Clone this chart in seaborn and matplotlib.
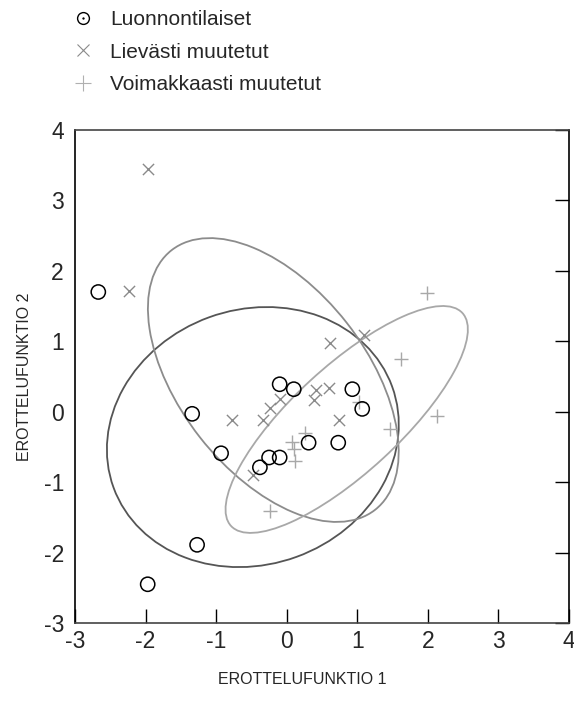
import matplotlib
matplotlib.use("Agg")
import matplotlib.pyplot as plt
import seaborn as sns
import pandas as pd
from matplotlib.patches import Ellipse
from matplotlib.lines import Line2D
from matplotlib.legend_handler import HandlerTuple

# ---- data ----
group_names = ["Luonnontilaiset", "Lievästi muutetut", "Voimakkaasti muutetut"]

circ_x = [-2.67, -1.34, -0.93, -1.27, -1.97, -0.10, 0.10, 0.93, 1.07, 0.31, 0.73, -0.25, -0.10, -0.38]
circ_y = [1.70, -0.03, -0.59, -1.89, -2.45, 0.39, 0.32, 0.32, 0.04, -0.44, -0.44, -0.65, -0.65, -0.79]

cross_x = [-1.96, -2.24, 0.61, 1.09, 0.42, 0.60, 0.39, 0.74, -0.78, -0.10, -0.24, -0.33, -0.48]
cross_y = [3.44, 1.72, 0.98, 1.09, 0.31, 0.34, 0.16, -0.12, -0.12, 0.18, 0.05, -0.12, -0.90]

plus_x = [1.99, 1.62, 2.13, 1.47, 0.26, 0.08, 0.10, 0.12, -0.24, 1.03]
plus_y = [1.68, 0.75, -0.06, -0.25, -0.30, -0.43, -0.53, -0.70, -1.41, 0.14]

# group ellipses: centre, full width, full height, angle (deg)
ell_cx = [-0.48, -0.19, 0.85]
ell_cy = [-0.36, 0.45, -0.11]
ell_w = [4.20, 4.68, 4.46]
ell_h = [3.62, 2.64, 1.51]
ell_angle = [20.0, -52.0, 42.7]

x_ticks = [-3, -2, -1, 0, 1, 2, 3, 4]
y_ticks = [-3, -2, -1, 0, 1, 2, 3, 4]
x_label = "EROTTELUFUNKTIO 1"
y_label = "EROTTELUFUNKTIO 2"

# ---- styling ----
sns.set_style("white")
plt.rcParams["font.family"] = ["Liberation Sans", "DejaVu Sans"]

ell_colors = ["#555555", "#8c8c8c", "#a8a8a8"]
mark_colors = ["#000000", "#8a8a8a", "#a8a8a8"]

fig = plt.figure(figsize=(5.74, 7.12), dpi=100)
ax = fig.add_axes([75 / 574, 1 - 623 / 712, 494 / 574, 493 / 712])

df_c = pd.DataFrame({"x": circ_x, "y": circ_y})
df_x = pd.DataFrame({"x": cross_x, "y": cross_y})
df_p = pd.DataFrame({"x": plus_x, "y": plus_y})

for cx, cy, w, h, a, col in zip(ell_cx, ell_cy, ell_w, ell_h, ell_angle, ell_colors):
    ax.add_patch(Ellipse((cx, cy), w, h, angle=a, fill=False, edgecolor=col, lw=1.3, zorder=1))

sns.scatterplot(data=df_x, x="x", y="y", marker="x", color=mark_colors[1], s=65,
                linewidth=1.0, ax=ax, zorder=2, legend=False)
sns.scatterplot(data=df_p, x="x", y="y", marker="+", color=mark_colors[2], s=110,
                linewidth=1.0, ax=ax, zorder=2, legend=False)
sns.scatterplot(data=df_c, x="x", y="y", marker="o", facecolor="none", edgecolor=mark_colors[0],
                s=105, linewidth=1.1, ax=ax, zorder=3, legend=False)

ax.set_xlim(-3, 4)
ax.set_ylim(-3, 4)
ax.set_xticks(x_ticks)
ax.set_yticks(y_ticks)
ax.set_xticklabels([str(t) for t in x_ticks])
ax.set_yticklabels([str(t) for t in y_ticks])
ax.tick_params(axis="both", direction="in", length=10, width=1.0, color="black",
               labelsize=16.5)
ax.tick_params(axis="x", bottom=True, top=False, pad=5)
ax.tick_params(axis="y", right=True, labelright=False, pad=8)
ax.set_xlabel(x_label, fontsize=11.5)
ax.xaxis.set_label_coords(0.46, -0.099)
ax.set_ylabel(y_label, fontsize=11.5, labelpad=8.5)

for side in ["left", "right"]:
    ax.spines[side].set_color("black")
    ax.spines[side].set_linewidth(1.2)
for side in ["top", "bottom"]:
    ax.spines[side].set_color("#444444")
    ax.spines[side].set_linewidth(1.2)

circ_h = Line2D([], [], linestyle="none", marker="o", markersize=8.5, markerfacecolor="none",
                markeredgecolor="black", markeredgewidth=1.0)
dot_h = Line2D([], [], linestyle="none", marker="o", markersize=1.3, markerfacecolor="black",
               markeredgecolor="black", markeredgewidth=0.3)
handles = [
    (circ_h, dot_h),
    Line2D([], [], linestyle="none", marker="x", markersize=9, color=mark_colors[1], markeredgewidth=0.8),
    Line2D([], [], linestyle="none", marker="+", markersize=12, color="#b0b0b0", markeredgewidth=0.8),
]
fig.legend(handles, group_names, loc="upper left", bbox_to_anchor=(73 / 574, 1 - 10 / 712),
           frameon=False, fontsize=15, handlelength=1.0, handletextpad=0.8,
           labelspacing=0.65, borderpad=0, borderaxespad=0,
           handler_map={tuple: HandlerTuple(ndivide=1, pad=0)})

fig.savefig("out.png", dpi=100)
